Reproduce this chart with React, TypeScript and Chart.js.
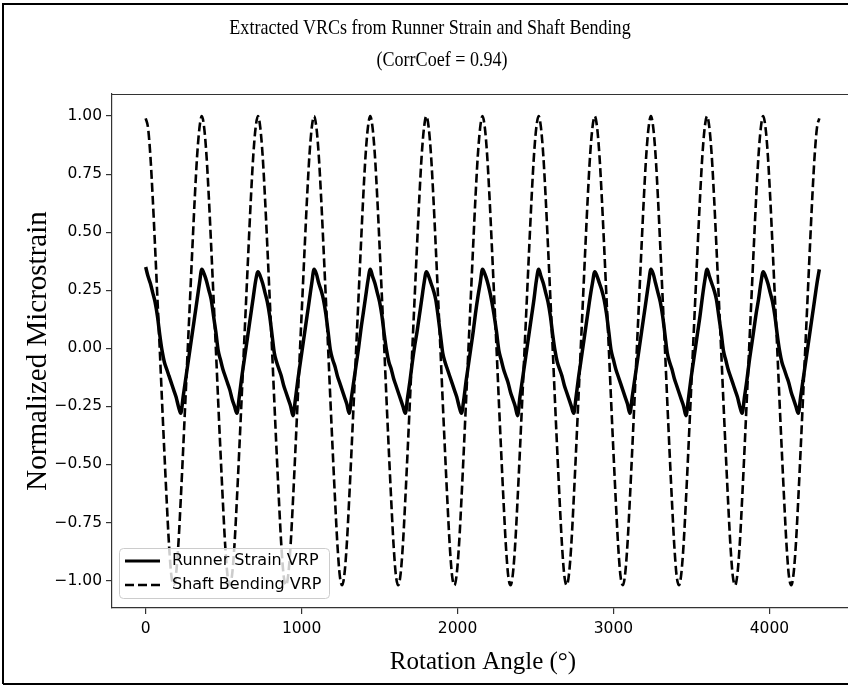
import React, { useEffect, useRef } from "react";
import { Chart, registerables } from "chart.js";

Chart.register(...registerables);

const CANVAS_W = 860;
const CANVAS_H = 686;

const titleLines = ["Extracted VRCs from Runner Strain and Shaft Bending", "(CorrCoef = 0.94)"];
const xLabel = "Rotation Angle (°)";
const yLabel = "Normalized Microstrain";
const legendLabels = ["Runner Strain VRP", "Shaft Bending VRP"];

const xTicks = [0, 1000, 2000, 3000, 4000];
const xTickLabels = ["0", "1000", "2000", "3000", "4000"];
const yTicks = [-1, -0.75, -0.5, -0.25, 0, 0.25, 0.5, 0.75, 1];
const yTickLabels = ["\u22121.00", "\u22120.75", "\u22120.50", "\u22120.25", "0.00", "0.25", "0.50", "0.75", "1.00"];

// sampled every 15 degrees, one row per revolution (0..345), plus the final value at 4320
const STEP_DEG = 15;

const runnerStrain: number[] = [
  0.35, 0.31, 0.28, 0.24, 0.20, 0.14, 0.06, -0.01, -0.06, -0.09, -0.12, -0.15, -0.18, -0.21, -0.25, -0.28, -0.21, -0.14, -0.07, 0.00, 0.07, 0.14, 0.21, 0.28,
  0.34, 0.32, 0.29, 0.25, 0.21, 0.14, 0.07, -0.01, -0.05, -0.09, -0.12, -0.15, -0.18, -0.22, -0.25, -0.28, -0.21, -0.13, -0.06, 0.01, 0.08, 0.15, 0.22, 0.29,
  0.33, 0.31, 0.28, 0.24, 0.20, 0.14, 0.06, -0.02, -0.06, -0.09, -0.12, -0.16, -0.19, -0.22, -0.25, -0.29, -0.22, -0.14, -0.07, 0.00, 0.07, 0.14, 0.21, 0.28,
  0.34, 0.32, 0.28, 0.25, 0.21, 0.15, 0.07, -0.01, -0.05, -0.08, -0.12, -0.15, -0.18, -0.21, -0.24, -0.28, -0.21, -0.14, -0.07, 0.00, 0.08, 0.15, 0.22, 0.29,
  0.34, 0.31, 0.28, 0.24, 0.20, 0.14, 0.06, -0.01, -0.06, -0.09, -0.13, -0.16, -0.19, -0.22, -0.25, -0.28, -0.21, -0.14, -0.06, 0.01, 0.07, 0.14, 0.21, 0.28,
  0.33, 0.31, 0.28, 0.25, 0.21, 0.14, 0.06, -0.02, -0.06, -0.09, -0.12, -0.15, -0.18, -0.21, -0.25, -0.28, -0.22, -0.14, -0.07, 0.00, 0.07, 0.15, 0.22, 0.28,
  0.34, 0.32, 0.29, 0.25, 0.20, 0.14, 0.07, -0.01, -0.05, -0.09, -0.12, -0.15, -0.19, -0.22, -0.25, -0.29, -0.21, -0.14, -0.07, 0.00, 0.07, 0.14, 0.21, 0.29,
  0.34, 0.31, 0.28, 0.24, 0.20, 0.14, 0.06, -0.01, -0.06, -0.09, -0.12, -0.16, -0.19, -0.22, -0.25, -0.28, -0.21, -0.13, -0.06, 0.01, 0.08, 0.15, 0.22, 0.28,
  0.33, 0.31, 0.28, 0.25, 0.21, 0.15, 0.07, -0.01, -0.05, -0.09, -0.12, -0.15, -0.18, -0.21, -0.24, -0.28, -0.21, -0.14, -0.07, 0.00, 0.07, 0.14, 0.21, 0.28,
  0.34, 0.32, 0.28, 0.24, 0.20, 0.14, 0.06, -0.02, -0.06, -0.09, -0.13, -0.16, -0.19, -0.22, -0.25, -0.29, -0.22, -0.14, -0.07, 0.00, 0.07, 0.14, 0.22, 0.29,
  0.34, 0.31, 0.28, 0.25, 0.21, 0.14, 0.07, -0.01, -0.05, -0.09, -0.12, -0.15, -0.18, -0.21, -0.25, -0.28, -0.21, -0.14, -0.06, 0.01, 0.08, 0.15, 0.21, 0.28,
  0.33, 0.31, 0.28, 0.24, 0.20, 0.14, 0.06, -0.01, -0.06, -0.09, -0.12, -0.15, -0.19, -0.22, -0.25, -0.28, -0.21, -0.14, -0.07, 0.00, 0.07, 0.14, 0.21, 0.28,
  0.34,
];

const shaftBending: number[] = [
  0.99, 0.95, 0.83, 0.65, 0.44, 0.22, 0.00, -0.23, -0.45, -0.66, -0.85, -0.98, -1.02, -0.97, -0.84, -0.65, -0.44, -0.22, 0.00, 0.22, 0.44, 0.65, 0.83, 0.95,
  1.00, 0.95, 0.83, 0.65, 0.44, 0.22, 0.00, -0.23, -0.45, -0.66, -0.85, -0.98, -1.02, -0.97, -0.84, -0.65, -0.44, -0.22, 0.00, 0.22, 0.44, 0.65, 0.83, 0.95,
  1.00, 0.95, 0.83, 0.65, 0.44, 0.22, 0.00, -0.23, -0.45, -0.66, -0.85, -0.98, -1.02, -0.97, -0.84, -0.65, -0.44, -0.22, 0.00, 0.22, 0.44, 0.65, 0.83, 0.95,
  1.00, 0.95, 0.83, 0.65, 0.44, 0.22, 0.00, -0.23, -0.45, -0.66, -0.85, -0.98, -1.02, -0.97, -0.84, -0.65, -0.44, -0.22, 0.00, 0.22, 0.44, 0.65, 0.83, 0.95,
  1.00, 0.95, 0.83, 0.65, 0.44, 0.22, 0.00, -0.23, -0.45, -0.66, -0.85, -0.98, -1.02, -0.97, -0.84, -0.65, -0.44, -0.22, 0.00, 0.22, 0.44, 0.65, 0.83, 0.95,
  1.00, 0.95, 0.83, 0.65, 0.44, 0.22, 0.00, -0.23, -0.45, -0.66, -0.85, -0.98, -1.02, -0.97, -0.84, -0.65, -0.44, -0.22, 0.00, 0.22, 0.44, 0.65, 0.83, 0.95,
  1.00, 0.95, 0.83, 0.65, 0.44, 0.22, 0.00, -0.23, -0.45, -0.66, -0.85, -0.98, -1.02, -0.97, -0.84, -0.65, -0.44, -0.22, 0.00, 0.22, 0.44, 0.65, 0.83, 0.95,
  1.00, 0.95, 0.83, 0.65, 0.44, 0.22, 0.00, -0.23, -0.45, -0.66, -0.85, -0.98, -1.02, -0.97, -0.84, -0.65, -0.44, -0.22, 0.00, 0.22, 0.44, 0.65, 0.83, 0.95,
  1.00, 0.95, 0.83, 0.65, 0.44, 0.22, 0.00, -0.23, -0.45, -0.66, -0.85, -0.98, -1.02, -0.97, -0.84, -0.65, -0.44, -0.22, 0.00, 0.22, 0.44, 0.65, 0.83, 0.95,
  1.00, 0.95, 0.83, 0.65, 0.44, 0.22, 0.00, -0.23, -0.45, -0.66, -0.85, -0.98, -1.02, -0.97, -0.84, -0.65, -0.44, -0.22, 0.00, 0.22, 0.44, 0.65, 0.83, 0.95,
  1.00, 0.95, 0.83, 0.65, 0.44, 0.22, 0.00, -0.23, -0.45, -0.66, -0.85, -0.98, -1.02, -0.97, -0.84, -0.65, -0.44, -0.22, 0.00, 0.22, 0.44, 0.65, 0.83, 0.95,
  1.00, 0.95, 0.83, 0.65, 0.44, 0.22, 0.00, -0.23, -0.45, -0.66, -0.85, -0.98, -1.02, -0.97, -0.84, -0.65, -0.44, -0.22, 0.00, 0.22, 0.44, 0.65, 0.83, 0.95,
  0.99,
];

const angles: number[] = runnerStrain.map((_, i) => i * STEP_DEG);

const SERIF = '"Liberation Serif", "Times New Roman", serif';
const SANS = '"DejaVu Sans", sans-serif';
const AXIS_COLOR = "#333333";

const PLOT_TOP = 94;
const PLOT_LEFT = 112;
const PLOT_BOTTOM = 608;
const PLOT_RIGHT = 853;

function drawText(
  ctx: CanvasRenderingContext2D,
  text: string,
  x: number,
  y: number,
  font: string,
  align: CanvasTextAlign,
  rotate = 0,
  scaleX = 1
) {
  ctx.save();
  ctx.translate(x, y);
  if (rotate) ctx.rotate(rotate);
  if (scaleX !== 1) ctx.scale(scaleX, 1);
  ctx.font = font;
  ctx.fillStyle = "#000";
  ctx.textAlign = align;
  ctx.textBaseline = "middle";
  ctx.fillText(text, 0, 0);
  ctx.restore();
}

const decorPlugin = {
  id: "decor",
  afterDraw(chart: any) {
    const ctx: CanvasRenderingContext2D = chart.ctx;
    const area = chart.chartArea;
    const xs = chart.scales.x;
    const ys = chart.scales.y;

    // top spine
    ctx.save();
    ctx.strokeStyle = AXIS_COLOR;
    ctx.lineWidth = 1.2;
    ctx.beginPath();
    ctx.moveTo(area.left, area.top + 0.5);
    ctx.lineTo(area.right, area.top + 0.5);
    ctx.stroke();
    ctx.restore();

    // tick labels
    yTicks.forEach((v, i) => {
      drawText(ctx, yTickLabels[i], area.left - 10, ys.getPixelForValue(v), `15.5px ${SANS}`, "right");
    });
    xTicks.forEach((v, i) => {
      drawText(ctx, xTickLabels[i], xs.getPixelForValue(v), area.bottom + 21, `15.5px ${SANS}`, "center");
    });

    // axis titles and chart title
    drawText(ctx, xLabel, 483, 662, `25px ${SERIF}`, "center");
    drawText(ctx, yLabel, 38, (area.top + area.bottom) / 2, `29px ${SERIF}`, "center", -Math.PI / 2);
    drawText(ctx, titleLines[0], 430, 28, `22px ${SERIF}`, "center", 0, 0.82);
    drawText(ctx, titleLines[1], 442, 60, `22px ${SERIF}`, "center", 0, 0.82);

    // legend
    const lx = 119.5, ly = 548.5, lw = 210, lh = 50, r = 4;
    ctx.save();
    ctx.beginPath();
    ctx.moveTo(lx + r, ly);
    ctx.lineTo(lx + lw - r, ly);
    ctx.quadraticCurveTo(lx + lw, ly, lx + lw, ly + r);
    ctx.lineTo(lx + lw, ly + lh - r);
    ctx.quadraticCurveTo(lx + lw, ly + lh, lx + lw - r, ly + lh);
    ctx.lineTo(lx + r, ly + lh);
    ctx.quadraticCurveTo(lx, ly + lh, lx, ly + lh - r);
    ctx.lineTo(lx, ly + r);
    ctx.quadraticCurveTo(lx, ly, lx + r, ly);
    ctx.closePath();
    ctx.fillStyle = "rgba(255,255,255,0.8)";
    ctx.fill();
    ctx.strokeStyle = "#cccccc";
    ctx.lineWidth = 1;
    ctx.stroke();

    ctx.strokeStyle = "#000";
    ctx.lineWidth = 3;
    ctx.beginPath();
    ctx.moveTo(125, 561);
    ctx.lineTo(160, 561);
    ctx.stroke();
    ctx.lineWidth = 2.6;
    ctx.setLineDash([9, 4]);
    ctx.beginPath();
    ctx.moveTo(125, 585);
    ctx.lineTo(162, 585);
    ctx.stroke();
    ctx.setLineDash([]);
    ctx.restore();
    drawText(ctx, legendLabels[0], 172, 561, `16px ${SANS}`, "left");
    drawText(ctx, legendLabels[1], 172, 585, `16px ${SANS}`, "left");

    // outer frame of the figure
    ctx.save();
    ctx.strokeStyle = "#000";
    ctx.lineWidth = 2;
    ctx.beginPath();
    ctx.moveTo(3, 684);
    ctx.lineTo(3, 4);
    ctx.lineTo(850, 4);
    ctx.moveTo(3, 684);
    ctx.lineTo(850, 684);
    ctx.stroke();
    ctx.restore();
  },
};

export default function App() {
  const canvasRef = useRef<HTMLCanvasElement | null>(null);

  useEffect(() => {
    const canvas = canvasRef.current;
    if (!canvas) return;
    const chart = new Chart(canvas, {
      type: "line",
      data: {
        datasets: [
          {
            label: legendLabels[0],
            data: angles.map((a, i) => ({ x: a, y: runnerStrain[i] })),
            borderColor: "#000",
            borderWidth: 3.5,
            pointRadius: 0,
            fill: false,
            cubicInterpolationMode: "monotone",
            order: 1,
          },
          {
            label: legendLabels[1],
            data: angles.map((a, i) => ({ x: a, y: shaftBending[i] })),
            borderColor: "#000",
            borderWidth: 2.6,
            borderDash: [9, 4],
            pointRadius: 0,
            fill: false,
            cubicInterpolationMode: "monotone",
            order: 0,
          },
        ],
      },
      options: {
        animation: false,
        responsive: false,
        devicePixelRatio: 1,
        layout: { padding: { top: PLOT_TOP, right: CANVAS_W - PLOT_RIGHT, left: 0, bottom: 0 } },
        plugins: {
          legend: { display: false },
          title: { display: false },
          tooltip: { enabled: false },
        },
        scales: {
          x: {
            type: "linear",
            min: -216,
            max: 4536,
            afterBuildTicks: (scale: any) => {
              scale.ticks = xTicks.map((v) => ({ value: v }));
            },
            afterFit: (scale: any) => {
              scale.height = CANVAS_H - PLOT_BOTTOM;
            },
            ticks: { display: false },
            grid: {
              display: true,
              drawOnChartArea: false,
              drawTicks: true,
              tickLength: 6,
              color: AXIS_COLOR,
              lineWidth: 1.2,
            },
            border: { display: true, color: AXIS_COLOR, width: 1.2 },
          },
          y: {
            type: "linear",
            min: -1.118,
            max: 1.095,
            afterBuildTicks: (scale: any) => {
              scale.ticks = yTicks.map((v) => ({ value: v }));
            },
            afterFit: (scale: any) => {
              scale.width = PLOT_LEFT;
            },
            ticks: { display: false },
            grid: {
              display: true,
              drawOnChartArea: false,
              drawTicks: true,
              tickLength: 6,
              color: AXIS_COLOR,
              lineWidth: 1.2,
            },
            border: { display: true, color: AXIS_COLOR, width: 1.2 },
          },
        },
      },
      plugins: [decorPlugin],
    } as any);
    return () => chart.destroy();
  }, []);

  return (
    <div
      style={{
        position: "absolute",
        left: 0,
        top: 0,
        width: 848,
        height: 686,
        overflow: "hidden",
        background: "#fff",
      }}
    >
      <canvas ref={canvasRef} width={CANVAS_W} height={CANVAS_H} style={{ display: "block" }} />
    </div>
  );
}
